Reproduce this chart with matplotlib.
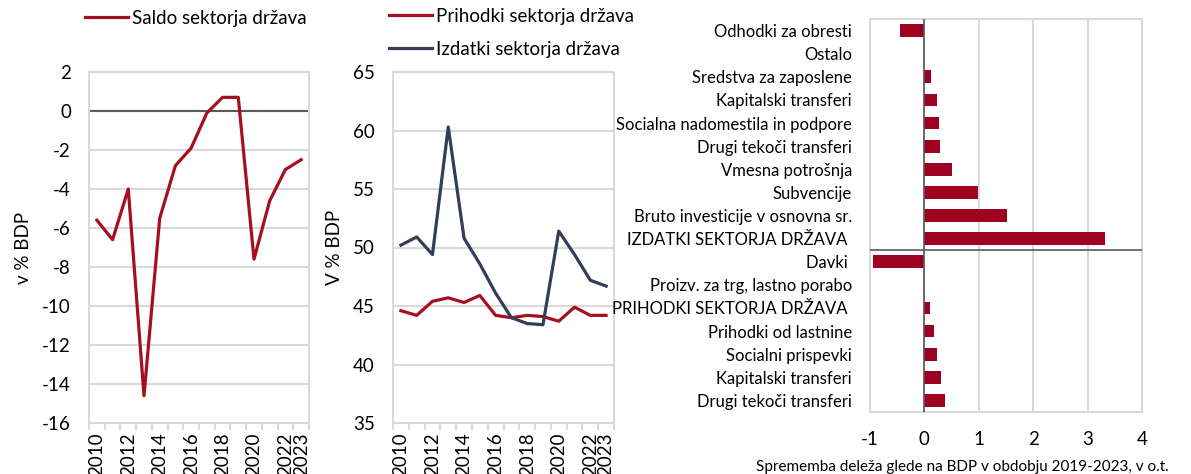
import matplotlib
matplotlib.use("Agg")
import matplotlib.pyplot as plt
import numpy as np

plt.rcParams['font.family'] = ['Lato', 'DejaVu Sans']
plt.rcParams['axes.unicode_minus'] = False

years = list(range(2010, 2024))
year_labels = ['2010', '', '2012', '', '2014', '', '2016', '', '2018', '', '2020', '', '2022', '2023']
saldo = [-5.6, -6.6, -4.0, -14.6, -5.5, -2.8, -1.9, -0.1, 0.7, 0.7, -7.6, -4.6, -3.0, -2.5]
prihodki = [44.6, 44.2, 45.4, 45.7, 45.3, 45.9, 44.2, 44.0, 44.2, 44.1, 43.7, 44.9, 44.2, 44.2]
izdatki = [50.2, 50.9, 49.4, 60.3, 50.8, 48.6, 46.1, 44.0, 43.5, 43.4, 51.4, 49.4, 47.2, 46.7]

bar_labels = ['Odhodki za obresti', 'Ostalo', 'Sredstva za zaposlene', 'Kapitalski transferi',
              'Socialna nadomestila in podpore', 'Drugi tekoči transferi', 'Vmesna potrošnja',
              'Subvencije', 'Bruto investicije v osnovna sr.', 'IZDATKI SEKTORJA DRŽAVA ',
              'Davki ', 'Proizv. za trg, lastno porabo', 'PRIHODKI SEKTORJA DRŽAVA ',
              'Prihodki od lastnine', 'Socialni prispevki', 'Kapitalski transferi',
              'Drugi tekoči transferi']
bar_values = [-0.44, 0.0, 0.13, 0.24, 0.26, 0.28, 0.51, 0.98, 1.51, 3.32,
               -0.95, -0.01, 0.10, 0.18, 0.23, 0.30, 0.38]

RED = '#A50F1E'
BAR = '#9E0020'
BLUE = '#333D5A'
GRID = '#D9D9D9'
DARK = '#595959'
W, H = 1191, 474
FS = 13.5

fig = plt.figure(figsize=(W / 100, H / 100), dpi=100)

def fbox(l, t, r, b):
    return [l / W, 1 - b / H, (r - l) / W, (b - t) / H]

def style_line_axes(ax, ylim, ystep):
    n = len(years)
    x = np.arange(n)
    ax.set_xlim(-0.5, n - 0.5)
    ax.set_ylim(*ylim)
    ax.set_yticks(np.arange(ylim[0], ylim[1] + 0.001, ystep))
    ax.set_xticks(x)
    ax.set_xticklabels(year_labels, rotation=90, fontsize=FS)
    ax.set_xticks(np.arange(-0.5, n, 1), minor=True)
    ax.tick_params(axis='x', which='major', length=0, pad=7)
    ax.tick_params(axis='x', which='minor', length=5, color=GRID, width=1.5)
    ax.tick_params(axis='y', length=0, pad=13, labelsize=FS)
    ax.grid(axis='y', color=GRID, linewidth=1.5)
    ax.set_axisbelow(True)
    for s in ax.spines.values():
        s.set_color(GRID)
        s.set_linewidth(1.5)
    return x

# Panel 1
ax1 = fig.add_axes(fbox(89, 72, 309, 423))
x = style_line_axes(ax1, (-16, 2), 2)
ax1.axhline(0, color=DARK, linewidth=1.5, zorder=1.5)
l1, = ax1.plot(x, saldo, color=RED, linewidth=2.3, label='Saldo sektorja država')
ax1.set_ylabel('v % BDP', fontsize=FS)
ax1.yaxis.set_label_coords(-57 / 220, 0.5)
fig.legend(handles=[l1], loc='upper left', bbox_to_anchor=(85 / W, 1 - 10 / H),
           frameon=False, fontsize=13.5, handlelength=2.3, handletextpad=0.2, borderpad=0,
           borderaxespad=0)

# Panel 2
ax2 = fig.add_axes(fbox(393, 72, 614, 423))
x = style_line_axes(ax2, (35, 65), 5)
l2, = ax2.plot(x, prihodki, color=RED, linewidth=2.3, label='Prihodki sektorja država')
l3, = ax2.plot(x, izdatki, color=BLUE, linewidth=2.3, label='Izdatki sektorja država')
ax2.set_ylabel('V % BDP', fontsize=FS)
ax2.yaxis.set_label_coords(-50 / 221, 0.5)
fig.legend(handles=[l2, l3], loc='upper left', bbox_to_anchor=(389 / W, 1 - 8 / H),
           frameon=False, fontsize=13.5, handlelength=2.3, handletextpad=0.2, borderpad=0,
           borderaxespad=0, labelspacing=0.85)

# Panel 3
ax3 = fig.add_axes(fbox(870, 19, 1142, 412))
y = np.arange(len(bar_labels))
ax3.barh(y, bar_values, height=0.55, color=BAR, zorder=3)
ax3.set_ylim(len(bar_labels) - 0.5, -0.5)
ax3.set_xlim(-1, 4)
ax3.set_xticks(range(-1, 5))
ax3.set_yticks(y)
ax3.set_yticklabels(bar_labels, fontsize=12)
ax3.tick_params(axis='y', length=0, pad=13)
ax3.tick_params(axis='x', length=0, pad=14, labelsize=FS)
ax3.grid(axis='x', color=GRID, linewidth=1.5)
ax3.set_axisbelow(True)
for s in ax3.spines.values():
    s.set_color(GRID)
    s.set_linewidth(1.5)
ax3.axvline(0, color=DARK, linewidth=1.2, zorder=4)
ax3.axhline(9.5, color=DARK, linewidth=1.2, zorder=4)
fig.text(962 / W, 1 - 460 / H, 'Sprememba deleža glede na BDP v obdobju 2019-2023, v o.t.',
         ha='center', va='top', fontsize=11)

fig.savefig('out.png', dpi=100)
